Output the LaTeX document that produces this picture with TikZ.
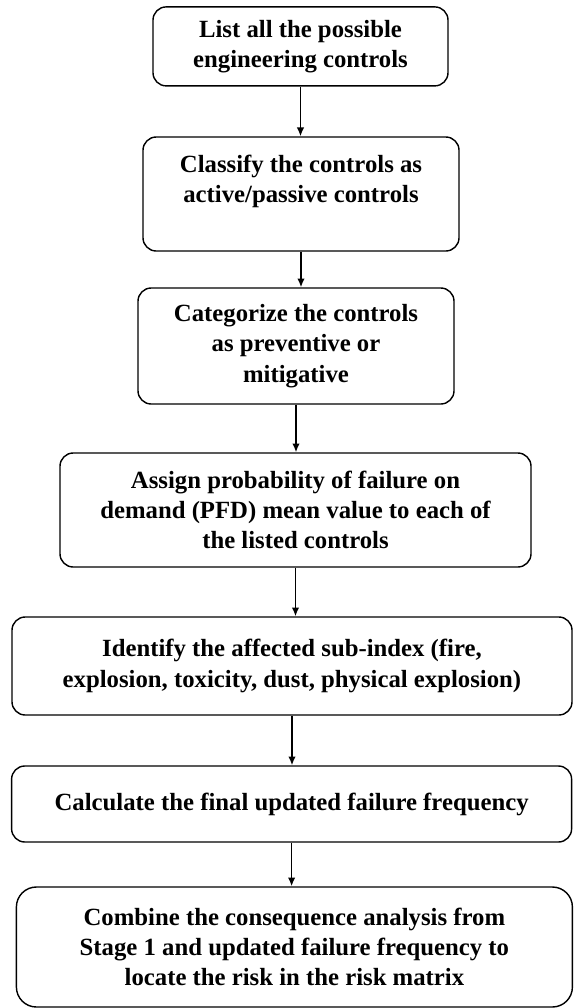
\documentclass[tikz,border=0pt]{standalone}
\usepackage{fontspec}
\setmainfont{Liberation Serif}
\usepackage{tikz}
\usetikzlibrary{arrows.meta,positioning}

\begin{document}
\begin{tikzpicture}[
  box/.style={draw, line width=1pt, rounded corners=0.33cm, align=center,
    font=\fontsize{17.6}{21.6}\selectfont\bfseries, inner sep=0pt},
  arrow/.style={-{Latex[length=2.2mm, width=1.9mm]}, line width=1.15pt}
]
\useasboundingbox (0,0) rectangle (14.35,-25.2);
\node[box, minimum width=7.375cm, minimum height=1.975cm] (list) at (7.5125,-1.16)
  {List all the possible\\engineering controls};
\node[box, minimum width=7.9cm, minimum height=2.85cm] (classify) at (7.525,-4.85)
  {Classify the controls as\\active/passive controls\\\mbox{}};
\node[box, minimum width=7.9cm, minimum height=2.9cm] (categorize) at (7.4,-8.65)
  {Categorize the controls\\as preventive or\\mitigative};
\node[box, minimum width=11.775cm, minimum height=2.85cm] (assign) at (7.3875,-12.75)
  {Assign probability of failure on\\demand (PFD) mean value to each of\\the listed controls};
\node[box, minimum width=14.0cm, minimum height=2.45cm] (identify) at (7.3,-16.65)
  {Identify the affected sub-index (fire,\\explosion, toxicity, dust, physical explosion)};
\node[box, minimum width=14.0cm, minimum height=1.9cm] (calculate) at (7.29,-20.1)
  {Calculate the final updated failure frequency};
\node[box, rounded corners=0.5cm, minimum width=13.9cm, minimum height=3.0cm] (combine) at (7.36,-23.675)
  {Combine the consequence analysis from\\Stage 1 and updated failure frequency to\\locate the risk in the risk matrix};
\foreach \a/\b in {list/classify,classify/categorize,categorize/assign,assign/identify,identify/calculate,calculate/combine}
  \draw[arrow] (\a.south) -- (\a.south |- \b.north);
\end{tikzpicture}
\end{document}
